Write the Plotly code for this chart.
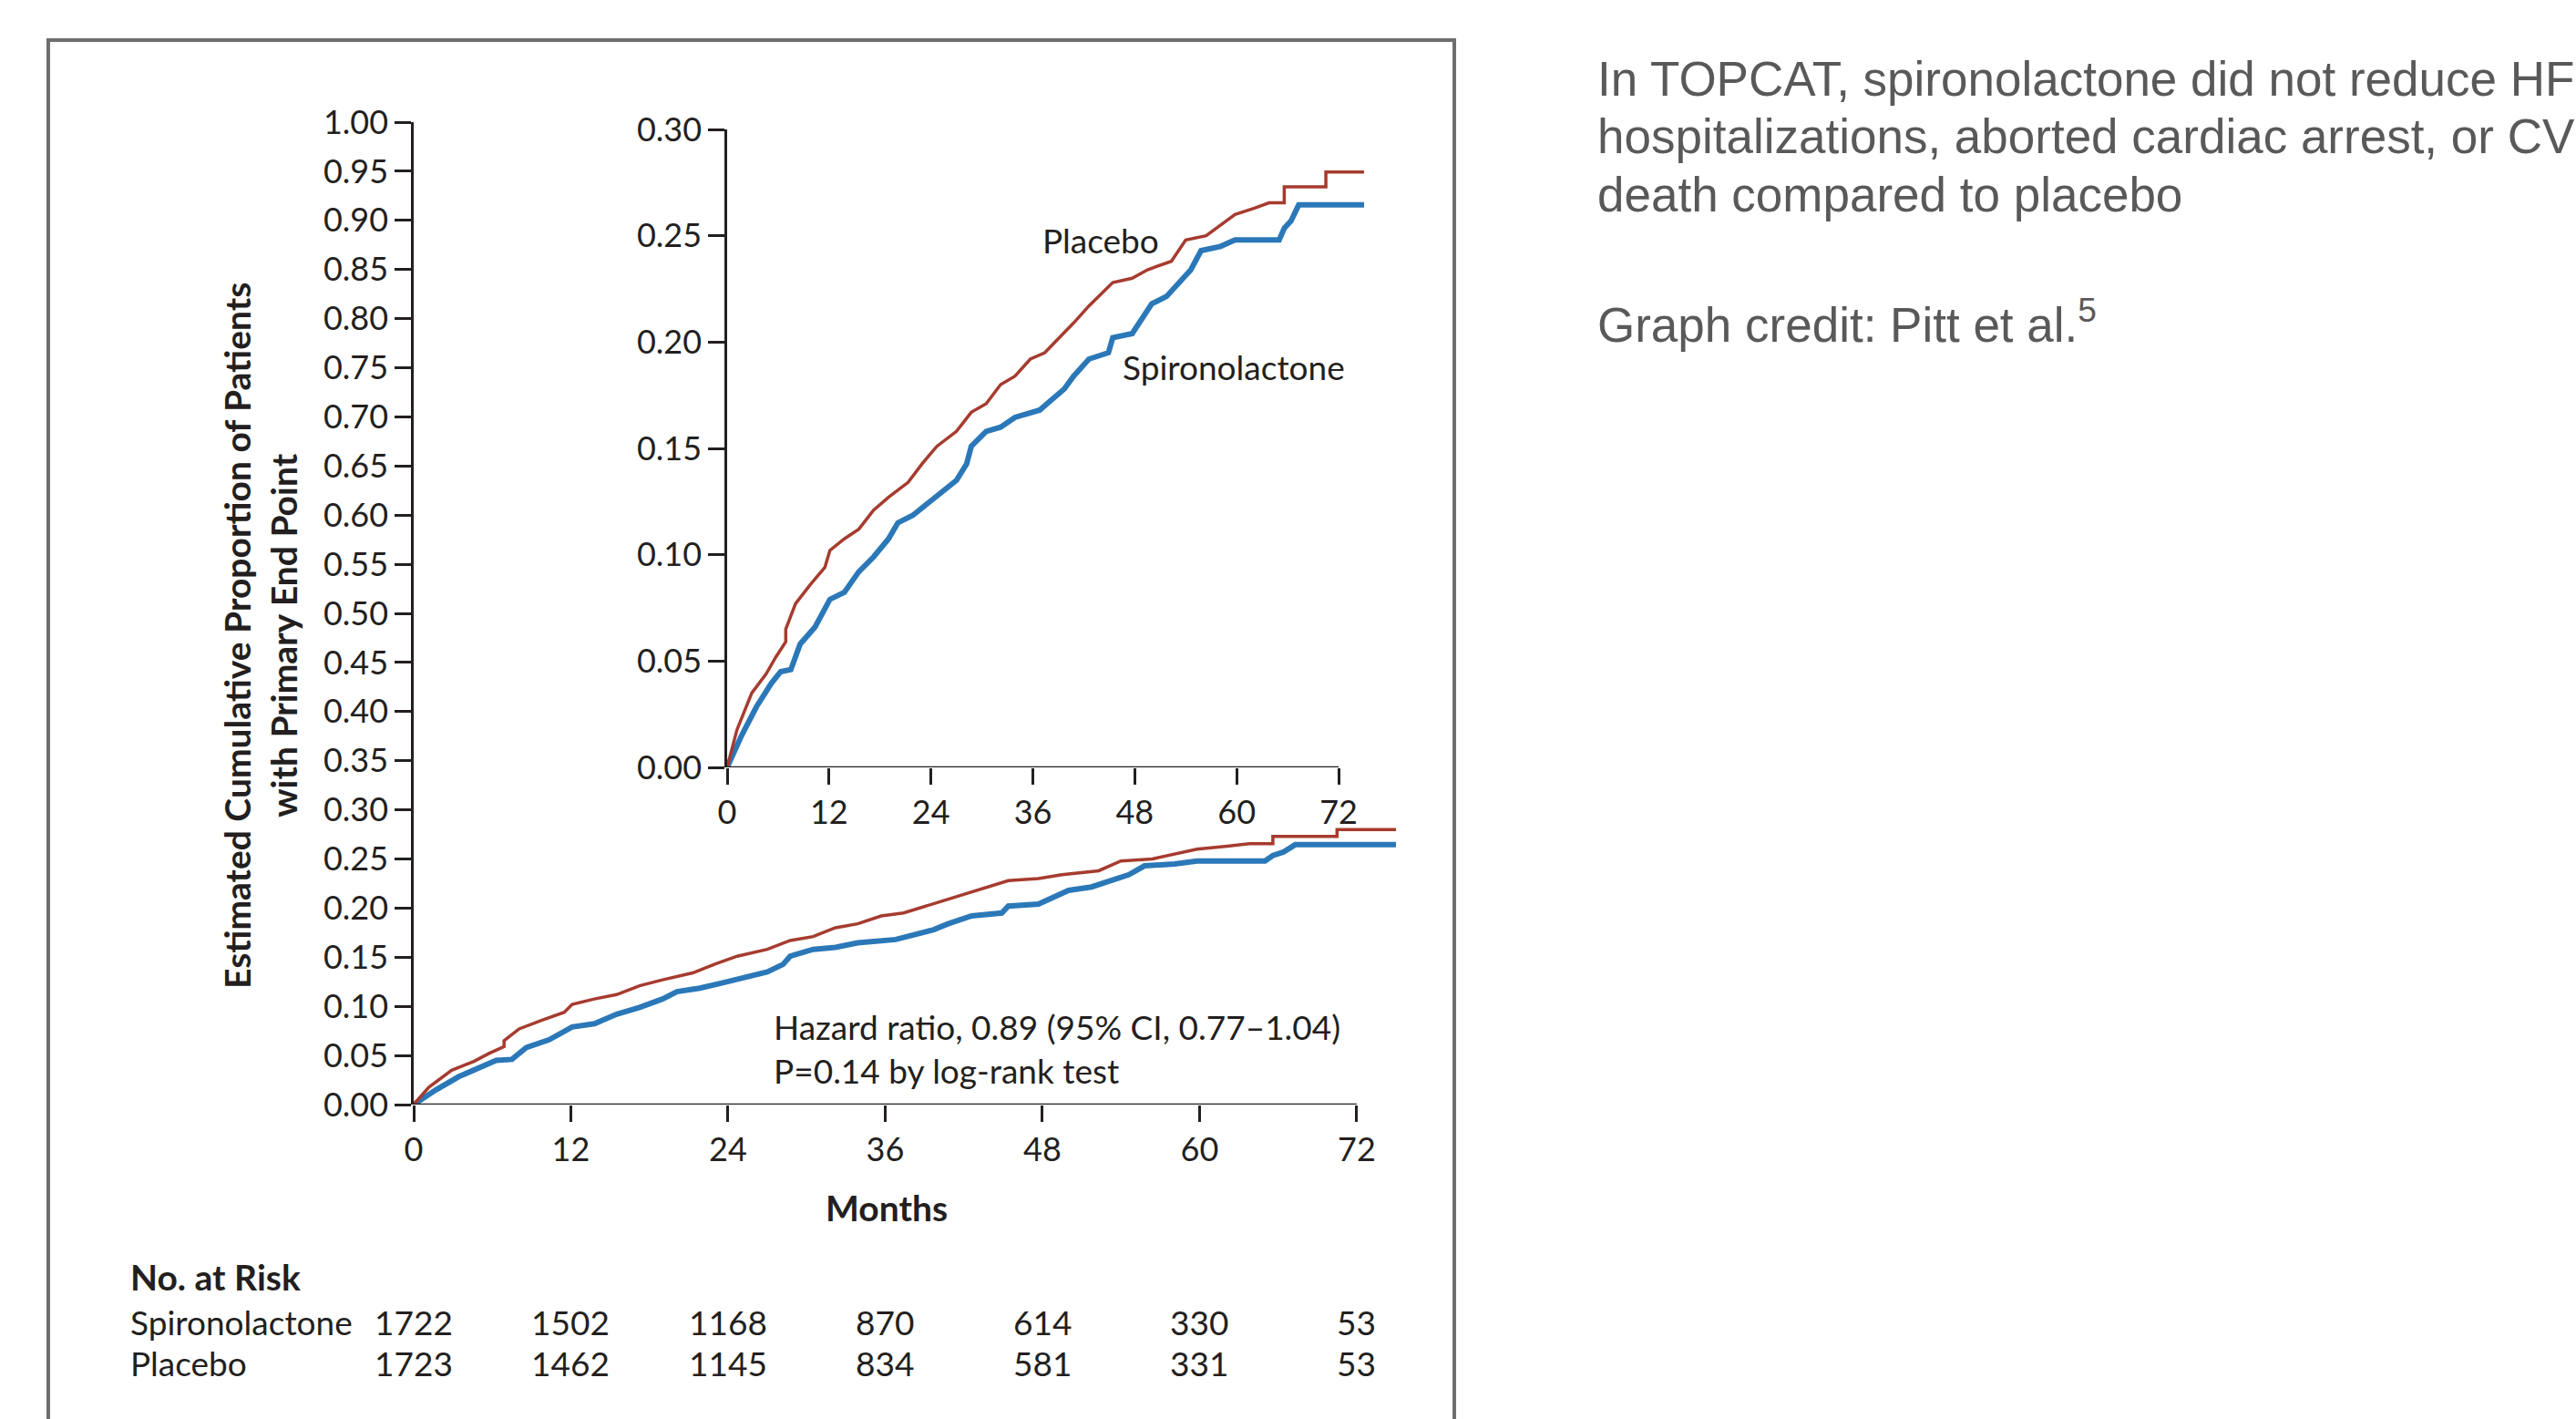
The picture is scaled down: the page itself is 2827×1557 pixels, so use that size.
import plotly.graph_objects as go

W, H = 2827, 1557

# ---- data (months, cumulative proportion) ----
placebo_months = [0, 1.15, 2.9, 4.6, 5.75, 6.9, 6.9, 8.05, 9.8, 11.5, 12.1, 13.8, 15.5, 17.25, 19, 21.3, 23,
                  24.7, 27, 28.75, 30.5, 32.2, 33.9, 35.7, 37.4, 39.1, 40.8, 42.6, 44.3, 45.4, 47.7, 49.5,
                  52.3, 54, 56.4, 58.7, 59.8, 62.1, 63.8, 65.6, 65.6, 70.5, 70.5, 75]
placebo_values = [0, 0.0176, 0.035, 0.044, 0.052, 0.059, 0.065, 0.077, 0.086, 0.094, 0.102, 0.1075, 0.112,
                  0.121, 0.127, 0.134, 0.143, 0.151, 0.158, 0.167, 0.171, 0.180, 0.184, 0.192, 0.195, 0.202,
                  0.209, 0.217, 0.224, 0.228, 0.230, 0.234, 0.238, 0.248, 0.250, 0.257, 0.260, 0.263, 0.2655,
                  0.2655, 0.273, 0.273, 0.280, 0.280]

spiro_months = [0, 1.7, 3.45, 5.2, 6.3, 7.5, 8.6, 10.35, 12.1, 13.8, 15.5, 17.25, 19, 20.1, 21.85, 23.6,
                25.3, 27, 28.2, 28.75, 30.5, 32.2, 33.9, 36.8, 37.95, 39.7, 40.8, 42.6, 44.9, 45.4, 47.7,
                48.9, 50, 51.75, 53.5, 54.6, 55.8, 58.1, 59.8, 65, 65.6, 66.4, 67.3, 75]
spiro_values = [0, 0.015, 0.0285, 0.0395, 0.045, 0.046, 0.058, 0.066, 0.079, 0.0823, 0.092, 0.099, 0.1075,
                0.115, 0.1185, 0.124, 0.1295, 0.135, 0.1427, 0.151, 0.158, 0.160, 0.1646, 0.168, 0.172,
                0.178, 0.184, 0.192, 0.195, 0.202, 0.204, 0.211, 0.218, 0.2215, 0.229, 0.234, 0.243, 0.245,
                0.248, 0.248, 0.2535, 0.257, 0.2645, 0.2645]

x_ticks = [0, 12, 24, 36, 48, 60, 72]
main_y_ticks = [i * 0.05 for i in range(21)]
inset_y_ticks = [0, 0.05, 0.10, 0.15, 0.20, 0.25, 0.30]

risk_groups = ["Spironolactone", "Placebo"]
risk_spiro = [1722, 1502, 1168, 870, 614, 330, 53]
risk_placebo = [1723, 1462, 1145, 834, 581, 331, 53]

RED = "#a63b2f"
BLUE = "#2b78b8"
INK = "#231f20"
FONT = "Lato"


def px(x):
    return x / W


def py(y):
    return (H - y) / H


fig = go.Figure()

for xa, ya in (("x", "y"), ("x2", "y2")):
    fig.add_trace(go.Scatter(x=spiro_months, y=spiro_values, mode="lines", xaxis=xa, yaxis=ya,
                             line=dict(color=BLUE, width=6), showlegend=False, hoverinfo="skip"))
    fig.add_trace(go.Scatter(x=placebo_months, y=placebo_values, mode="lines", xaxis=xa, yaxis=ya,
                             line=dict(color=RED, width=3.5), showlegend=False, hoverinfo="skip"))

axis_common = dict(showgrid=False, zeroline=False, ticks="outside", ticklen=18, tickwidth=2.5,
                   tickcolor=INK, linecolor=INK, linewidth=2.5, automargin=False,
                   tickfont=dict(family=FONT, size=36, color=INK), fixedrange=True)

fig.update_layout(
    template="none",
    width=W, height=H, margin=dict(l=0, r=0, t=0, b=0, pad=0, autoexpand=False),
    paper_bgcolor="white", plot_bgcolor="rgba(0,0,0,0)",
    xaxis=dict(domain=[px(454), px(1532)], range=[0, 75], tickvals=x_ticks, showline=False, **axis_common),
    yaxis=dict(domain=[py(1212), py(134)], range=[0, 1], tickvals=main_y_ticks,
               ticktext=[f"{v:.2f}" for v in main_y_ticks], showline=True, **axis_common),
    xaxis2=dict(domain=[px(798), px(1497)], range=[0, 75], tickvals=x_ticks, showline=False,
                anchor="y2", **axis_common),
    yaxis2=dict(domain=[py(842), py(142)], range=[0, 0.30], tickvals=inset_y_ticks,
                ticktext=[f"{v:.2f}" for v in inset_y_ticks], showline=True, anchor="x2", **axis_common),
)

# x axis lines ending at 72 months
fig.add_shape(type="line", xref="x", yref="y", x0=0, x1=72, y0=0, y1=0, line=dict(color=INK, width=2.5))
fig.add_shape(type="line", xref="x2", yref="y2", x0=0, x1=72, y0=0, y1=0, line=dict(color=INK, width=2.5))

# frame around the figure
fig.add_shape(type="rect", xref="paper", yref="paper", x0=px(53), x1=px(1596), y0=py(1620), y1=py(44),
              line=dict(color="#6e6e6e", width=4), layer="below")


def note(x, y, text, size, xanchor="center", xref="paper", **kw):
    return dict(x=x, y=y, xref=xref, yref="paper", showarrow=False, text=text, xanchor=xanchor,
                yanchor="middle", font=dict(family=kw.pop("family", FONT), size=size,
                                            color=kw.pop("color", INK)), **kw)


ann = []
ann.append(note(px(285), py(698), "<b>Estimated Cumulative Proportion of Patients<br>with Primary End Point</b>",
                39, textangle=-90, align="center"))
ann.append(note(px(973), py(1325), "<b>Months</b>", 39))
ann.append(note(px(847), py(1150), "Hazard ratio, 0.89 (95% CI, 0.77\u20131.04)<br>P=0.14 by log-rank test",
                37, xanchor="left", align="left"))
ann.append(note(px(1208), py(263), "Placebo", 37))
ann.append(note(px(1354), py(402), "Spironolactone", 37))
ann.append(note(px(141), py(1401), "<b>No. at Risk</b>", 39, xanchor="left"))
for name, yy, counts in ((risk_groups[0], 1450, risk_spiro), (risk_groups[1], 1495, risk_placebo)):
    ann.append(note(px(141), py(yy), name, 37, xanchor="left"))
    for m, c in zip(x_ticks, counts):
        ann.append(note(m, py(yy), str(c), 37, xref="x"))

side = ["In TOPCAT, spironolactone did not reduce HF",
        "hospitalizations, aborted cardiac arrest, or CV",
        "death compared to placebo"]
for i, line in enumerate(side):
    ann.append(note(px(1751), py(87 + 63 * i), line, 53, xanchor="left",
                    family="Liberation Sans", color="#595959"))
ann.append(note(px(1751), py(352), "Graph credit: Pitt et al.<sup>5</sup>", 53, xanchor="left",
                family="Liberation Sans", color="#595959"))

fig.update_layout(annotations=ann)
fig.write_html("out.html")
